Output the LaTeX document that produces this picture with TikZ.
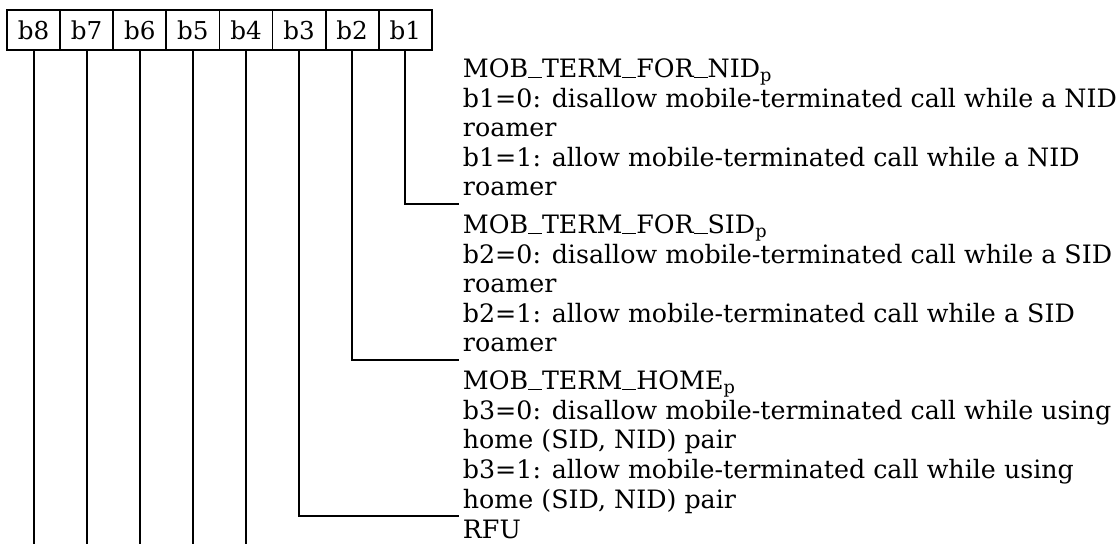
\documentclass[tikz,border=0pt]{standalone}
\usepackage{fontspec}
\setmainfont{DejaVu Serif}
\newcommand\usline{\rule[-0.02em]{0.55em}{0.06em}}

\tikzset{
  bitcell/.style={draw, line width=1.3pt, minimum width=1.328cm, minimum height=1cm, inner sep=0pt, font=\fontsize{17.5}{21}\selectfont},
  desc/.style={anchor=base west, inner sep=0pt, align=left, font=\fontsize{18}{21}\selectfont}
}

\begin{document}
\begin{tikzpicture}[x=0.025cm,y=0.025cm, line width=1.3pt]
\useasboundingbox (0,0) rectangle (1119,-544);
% bit cells
\node[bitcell] (b8) at (33.6,-30) {b8};
\node[bitcell] (b7) at (86.7,-30) {b7};
\node[bitcell] (b6) at (139.8,-30) {b6};
\node[bitcell] (b5) at (192.9,-30) {b5};
\node[bitcell] (b4) at (246.0,-30) {b4};
\node[bitcell] (b3) at (299.1,-30) {b3};
\node[bitcell] (b2) at (352.2,-30) {b2};
\node[bitcell] (b1) at (405.3,-30) {b1};
% descriptions (anchored at the baseline of their last line)
\node[desc] (nid) at (462,-196) {MOB\usline TERM\usline FOR\usline NID\textsubscript{p}\\b1=0: disallow mobile-terminated call while a NID\\roamer\\b1=1: allow mobile-terminated call while a NID\\roamer};
\node[desc] (sid) at (462,-352) {MOB\usline TERM\usline FOR\usline SID\textsubscript{p}\\b2=0: disallow mobile-terminated call while a SID\\roamer\\b2=1: allow mobile-terminated call while a SID\\roamer};
\node[desc] (home) at (462,-508) {MOB\usline TERM\usline HOME\textsubscript{p}\\b3=0: disallow mobile-terminated call while using\\home (SID, NID) pair\\b3=1: allow mobile-terminated call while using\\home (SID, NID) pair};
\node[desc] (rfu) at (462,-538) {RFU};
\coordinate (nidend) at (459,-204);
\coordinate (sidend) at (459,-360);
\coordinate (homeend) at (459,-516);
\coordinate (bottom) at (0,-544);
% connectors
\draw (b1.south) |- (nidend);
\draw (b2.south) |- (sidend);
\draw (b3.south) |- (homeend);
\draw (b4.south) -- (b4.south |- bottom);
\draw (b5.south) -- (b5.south |- bottom);
\draw (b6.south) -- (b6.south |- bottom);
\draw (b7.south) -- (b7.south |- bottom);
\draw (b8.south) -- (b8.south |- bottom);
\end{tikzpicture}
\end{document}
